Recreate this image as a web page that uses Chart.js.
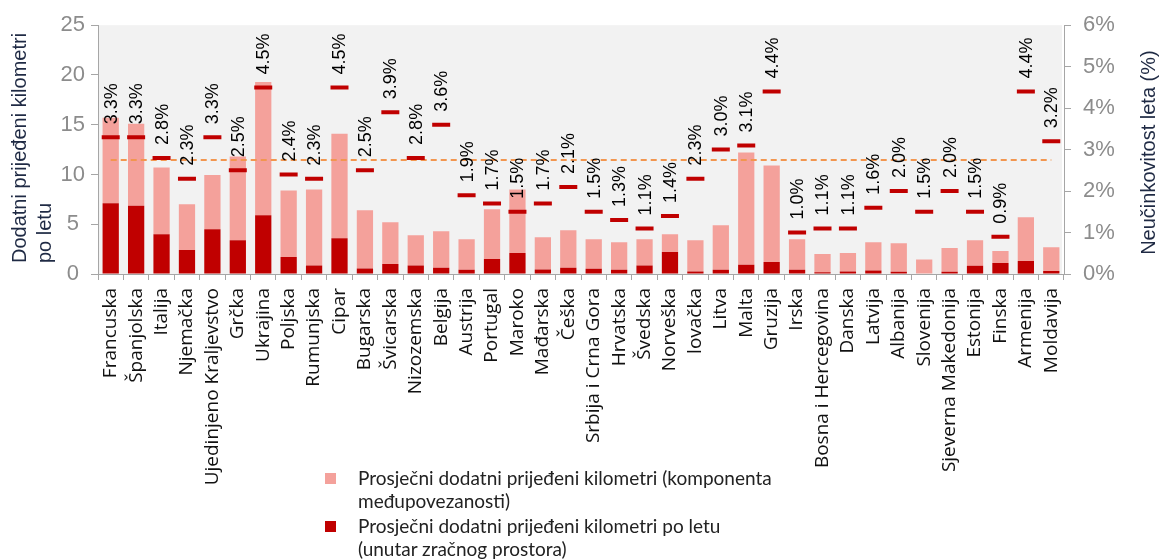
<!DOCTYPE html>
<html lang="hr">
<head>
    <meta charset="UTF-8">
    <title>Dodatni prijeđeni kilometri po letu</title>
    <script src="https://cdn.jsdelivr.net/npm/chart.js"></script>
    <style>
        body {
            margin: 0;
            background: white;
        }
        #wrap {
            position: relative;
            width: 1160px;
            height: 559px;
        }
        #legend {
            position: absolute;
            left: 325px;
            top: 466px;
            font-family: Lato, 'Open Sans', sans-serif;
            font-size: 19px;
            line-height: 23px;
            color: #222;
        }
        .item {
            position: relative;
            padding-left: 33px;
            margin-bottom: 2px;
        }
        .box {
            position: absolute;
            left: 0;
            top: 7px;
            width: 11px;
            height: 11px;
        }
    </style>
</head>
<body>

<div id="wrap">
    <canvas id="chart"></canvas>
    <div id="legend">
        <div class="item"><span class="box" style="background:#F4A19B"></span>Prosječni dodatni prijeđeni kilometri (komponenta<br>međupovezanosti)</div>
        <div class="item"><span class="box" style="background:#C00000"></span>Prosječni dodatni prijeđeni kilometri po letu<br>(unutar zračnog prostora)</div>
    </div>
</div>

<script>
    const countries = ['Francuska', 'Španjolska', 'Italija', 'Njemačka', 'Ujedinjeno Kraljevstvo', 'Grčka',
        'Ukrajina', 'Poljska', 'Rumunjska', 'Cipar', 'Bugarska', 'Švicarska', 'Nizozemska', 'Belgija',
        'Austrija', 'Portugal', 'Maroko', 'Mađarska', 'Češka', 'Srbija i Crna Gora', 'Hrvatska', 'Švedska',
        'Norveška', 'lovačka', 'Litva', 'Malta', 'Gruzija', 'Irska', 'Bosna i Hercegovina', 'Danska',
        'Latvija', 'Albanija', 'Slovenija', 'Sjeverna Makedonija', 'Estonija', 'Finska', 'Armenija', 'Moldavija'];

    // km per flight inside the airspace (dark part)
    const airspaceKm = [7.1, 6.85, 4.0, 2.4, 4.5, 3.4, 5.9, 1.7, 0.86, 3.6, 0.56, 1.0, 0.86, 0.63,
        0.43, 1.5, 2.1, 0.46, 0.63, 0.53, 0.43, 0.86, 2.2, 0.26, 0.43, 0.93, 1.2, 0.43, 0.17, 0.26,
        0.36, 0.23, 0, 0.23, 0.83, 1.1, 1.3, 0.3];

    // interconnection component (light part, stacked on top)
    const connectKm = [8.6, 8.25, 6.7, 4.6, 5.45, 8.4, 13.4, 6.7, 7.64, 10.5, 5.84, 4.2, 3.04, 3.67,
        3.07, 5.0, 6.4, 3.24, 3.77, 2.97, 2.77, 2.64, 1.8, 3.14, 4.47, 11.27, 9.7, 3.07, 1.83, 1.84,
        2.84, 2.87, 1.45, 2.37, 2.57, 1.2, 4.4, 2.4];

    // flight inefficiency in % (right axis)
    const inefficiency = [3.3, 3.3, 2.8, 2.3, 3.3, 2.5, 4.5, 2.4, 2.3, 4.5, 2.5, 3.9, 2.8, 3.6,
        1.9, 1.7, 1.5, 1.7, 2.1, 1.5, 1.3, 1.1, 1.4, 2.3, 3.0, 3.1, 4.4, 1.0, 1.1, 1.1,
        1.6, 2.0, 1.5, 2.0, 1.5, 0.9, 4.4, 3.2];

    const averageIneff = 2.75;

    const leftTicks = [0, 5, 10, 15, 20, 25];
    const rightTicks = [0, 1, 2, 3, 4, 5, 6];

    const axisColor = '#A6A6A6';
    const tickColor = '#8C8C8C';
    const titleColor = '#1F2A44';
    const arial = '"Liberation Sans", Arial, sans-serif';

    // grey plot background
    const plotBackground = {
        id: 'plotBackground',
        beforeDraw(chart) {
            const {ctx, chartArea} = chart;
            ctx.save();
            ctx.fillStyle = '#F2F2F2';
            ctx.fillRect(chartArea.left, chartArea.top, chartArea.right - chartArea.left - 2, chartArea.bottom - chartArea.top);
            ctx.restore();
        }
    };

    // rotated % labels above each marker
    const valueLabels = {
        id: 'valueLabels',
        afterDatasetsDraw(chart) {
            const ctx = chart.ctx;
            const meta = chart.getDatasetMeta(0);
            ctx.save();
            ctx.font = '18px ' + arial;
            ctx.fillStyle = '#000';
            ctx.textAlign = 'left';
            ctx.textBaseline = 'middle';
            meta.data.forEach((pt, i) => {
                ctx.save();
                ctx.translate(pt.x + 1, pt.y - 13);
                ctx.rotate(-Math.PI / 2);
                ctx.fillText(inefficiency[i].toFixed(1) + '%', 0, 0);
                ctx.restore();
            });
            ctx.restore();
        }
    };

    // axis titles (right one reads bottom-up, so drawn by hand)
    const axisTitles = {
        id: 'axisTitles',
        afterDraw(chart) {
            const {ctx, chartArea} = chart;
            ctx.save();
            ctx.font = '20px ' + arial;
            ctx.fillStyle = titleColor;
            ctx.textBaseline = 'middle';

            ctx.save();
            ctx.translate(20, chartArea.bottom - 11);
            ctx.rotate(-Math.PI / 2);
            ctx.textAlign = 'left';
            ctx.fillText('Dodatni prijeđeni kilometri', 0, 0);
            ctx.fillText('po letu', 0, 25);
            ctx.restore();

            ctx.save();
            ctx.translate(1149, (chartArea.top + chartArea.bottom) / 2 + 3);
            ctx.rotate(-Math.PI / 2);
            ctx.textAlign = 'center';
            ctx.fillText('Neučinkovitost leta (%)', 0, 0);
            ctx.restore();

            ctx.restore();
        }
    };

    new Chart(document.getElementById('chart'), {
        type: 'bar',
        data: {
            labels: countries,
            datasets: [
                {
                    type: 'line',
                    label: 'Neučinkovitost leta',
                    data: inefficiency,
                    yAxisID: 'y1',
                    showLine: false,
                    pointStyle: 'line',
                    pointRadius: 9,
                    pointHoverRadius: 9,
                    pointBorderWidth: 4,
                    pointBorderColor: '#C00000',
                    borderColor: '#C00000',
                    order: 0
                },
                {
                    type: 'line',
                    label: 'Prosjek',
                    data: [{x: countries[0], y: averageIneff}, {x: countries[countries.length - 1], y: averageIneff}],
                    yAxisID: 'y1',
                    borderColor: '#F2964F',
                    borderWidth: 2,
                    borderDash: [6, 4],
                    pointRadius: 0,
                    order: 1
                },
                {
                    label: 'Prosječni dodatni prijeđeni kilometri po letu (unutar zračnog prostora)',
                    data: airspaceKm,
                    backgroundColor: '#C00000',
                    stack: 'km',
                    order: 2
                },
                {
                    label: 'Prosječni dodatni prijeđeni kilometri (komponenta međupovezanosti)',
                    data: connectKm,
                    backgroundColor: '#F4A19B',
                    stack: 'km',
                    order: 3
                }
            ]
        },
        options: {
            responsive: true,
            maintainAspectRatio: false,
            animation: false,
            datasets: {
                bar: {
                    categoryPercentage: 1,
                    barPercentage: 0.64
                }
            },
            layout: {
                padding: {top: 22, left: 0, right: 0, bottom: 0}
            },
            plugins: {
                legend: {display: false},
                tooltip: {enabled: false}
            },
            scales: {
                x: {
                    stacked: true,
                    offset: true,
                    grid: {
                        display: true,
                        drawOnChartArea: false,
                        tickLength: 6,
                        color: axisColor,
                        offset: true
                    },
                    border: {color: axisColor},
                    ticks: {
                        autoSkip: false,
                        minRotation: 90,
                        maxRotation: 90,
                        padding: 8,
                        color: '#111',
                        font: {family: '"Open Sans", sans-serif', size: 19}
                    },
                    afterFit: (scale) => { scale.height = 285; }
                },
                y: {
                    position: 'left',
                    stacked: true,
                    min: 0,
                    max: 25,
                    afterBuildTicks: (scale) => { scale.ticks = leftTicks.map(v => ({value: v})); },
                    grid: {
                        display: true,
                        drawOnChartArea: false,
                        tickLength: 7,
                        color: axisColor
                    },
                    border: {color: axisColor},
                    ticks: {
                        color: tickColor,
                        crossAlign: 'center',
                        padding: 6,
                        font: {family: arial, size: 22}
                    },
                    afterFit: (scale) => { scale.width = 98; }
                },
                y1: {
                    position: 'right',
                    min: 0,
                    max: 6,
                    afterBuildTicks: (scale) => { scale.ticks = rightTicks.map(v => ({value: v})); },
                    grid: {
                        display: true,
                        drawOnChartArea: false,
                        tickLength: 7,
                        color: axisColor
                    },
                    border: {color: axisColor},
                    ticks: {
                        color: tickColor,
                        padding: 12,
                        font: {family: arial, size: 22},
                        callback: (v) => v + '%'
                    },
                    afterFit: (scale) => { scale.width = 96; }
                }
            }
        },
        plugins: [plotBackground, valueLabels, axisTitles]
    });
</script>

</body>
</html>
